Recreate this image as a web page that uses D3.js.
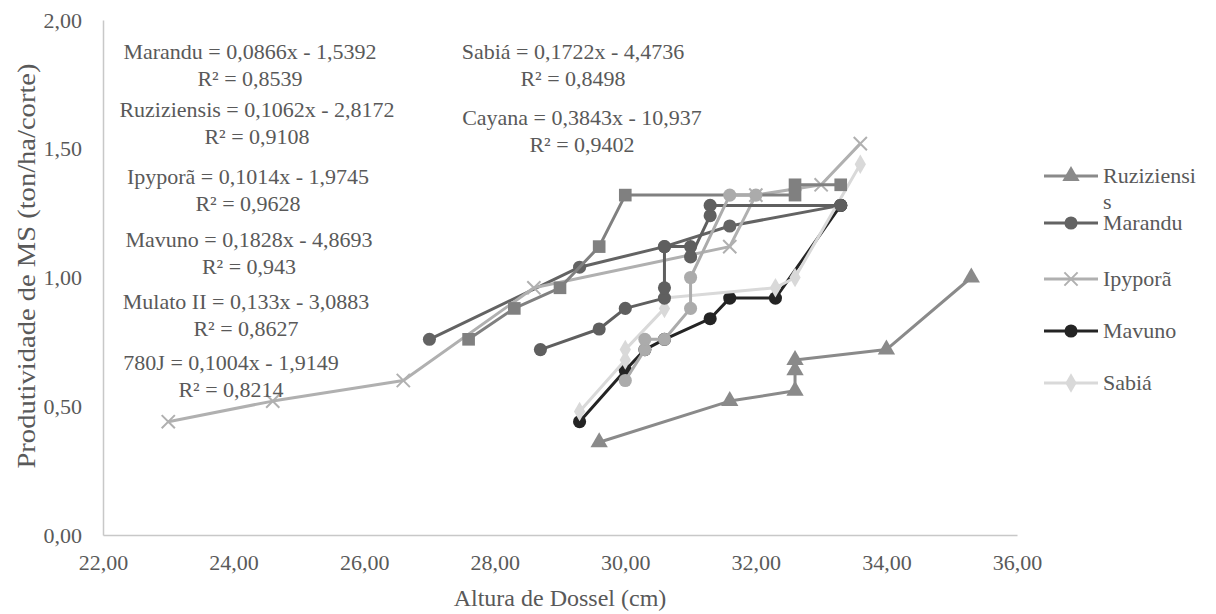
<!DOCTYPE html>
<html>
<head>
<meta charset="utf-8">
<script src="https://cdn.jsdelivr.net/npm/d3@7"></script>
<style>
  body { margin: 0; background: #fff; }
</style>
</head>
<body>
<div id="chart"></div>
<script>
// values: [altura (cm), produtividade (ton/ha/corte)]
let ruziziensis = [[29.6, 0.36], [31.6, 0.52], [32.6, 0.56], [32.6, 0.64], [32.6, 0.68], [34.0, 0.72], [35.3, 1.00]];
let marandu = [[27.0, 0.76], [29.3, 1.04], [30.6, 1.12], [31.6, 1.20], [33.3, 1.28]];
let ipypora = [[23.0, 0.44], [24.6, 0.52], [26.6, 0.60], [28.6, 0.96], [31.6, 1.12], [32.0, 1.32], [33.0, 1.36], [33.6, 1.52]];
let mavuno = [[29.3, 0.44], [30.0, 0.64], [30.3, 0.72], [30.6, 0.76], [31.3, 0.84], [31.6, 0.92], [32.3, 0.92], [33.3, 1.28]];
let sabia = [[29.3, 0.48], [30.0, 0.68], [30.0, 0.72], [30.6, 0.88], [30.6, 0.92], [32.3, 0.96], [32.6, 1.00], [33.6, 1.44]];
let j780 = [[27.6, 0.76], [28.3, 0.88], [29.0, 0.96], [29.6, 1.12], [30.0, 1.32], [32.6, 1.32], [32.6, 1.36], [33.3, 1.36]];
let mulato = [[28.7, 0.72], [29.6, 0.80], [30.0, 0.88], [30.6, 0.92], [30.6, 0.96], [30.6, 1.12], [31.0, 1.12], [31.0, 1.08], [31.3, 1.24], [31.3, 1.28], [33.3, 1.28]];
let cayana = [[30.0, 0.60], [30.3, 0.72], [30.3, 0.76], [30.6, 0.76], [31.0, 0.88], [31.0, 1.00], [31.6, 1.32], [32.0, 1.32]];

let xTicks = [22, 24, 26, 28, 30, 32, 34, 36];
let yTicks = [0, 0.5, 1, 1.5, 2];

let equations = [
    ["Marandu = 0,0866x - 1,5392", "R² = 0,8539"],
    ["Ruziziensis = 0,1062x - 2,8172", "R² = 0,9108"],
    ["Ipyporã = 0,1014x - 1,9745", "R² = 0,9628"],
    ["Mavuno  = 0,1828x - 4,8693", "R² = 0,943"],
    ["Mulato II = 0,133x - 3,0883", "R² = 0,8627"],
    ["780J = 0,1004x - 1,9149", "R² = 0,8214"],
    ["Sabiá = 0,1722x - 4,4736", "R² = 0,8498"],
    ["Cayana = 0,3843x - 10,937", "R² = 0,9402"]
];
// label centres (pixels) of the first line of each equation box
let eqPos = [[250, 52], [257, 110], [248, 177], [249, 240], [246, 302], [231, 363], [573, 52], [582, 118]];

let width = 1216, height = 614;
let mLeft = 103, mRight = 1017, mTop = 20, mBottom = 535;
let serif = "Liberation Serif";
let ink = "#595959";

let x = d3.scaleLinear().domain([22, 36]).range([mLeft, mRight]);
let y = d3.scaleLinear().domain([0, 2]).range([mBottom, mTop]);

let comma = function(d) { return d3.format(".2f")(d).replace(".", ","); };

let timesSymbol = d3.symbolTimes || d3.symbolX || {
    draw: function(ctx, size) {
        let r = Math.sqrt(size) * 0.62;
        ctx.moveTo(-r, -r); ctx.lineTo(r, r);
        ctx.moveTo(-r, r); ctx.lineTo(r, -r);
    }
};

let series = [
    {name: "Ruziziensis", data: ruziziensis, color: "#8a8a8a", symbol: d3.symbolTriangle, size: 130},
    {name: "Marandu", data: marandu, color: "#636363", symbol: d3.symbolCircle, size: 135},
    {name: "Ipyporã", data: ipypora, color: "#b0b0b0", symbol: timesSymbol, size: 115, stroke: true},
    {name: "Mavuno", data: mavuno, color: "#242424", symbol: d3.symbolCircle, size: 135},
    {name: "Sabiá", data: sabia, color: "#d9d9d9", symbol: d3.symbolDiamond, size: 110},
    {name: "780J", data: j780, color: "#808080", symbol: d3.symbolSquare, size: 160},
    {name: "Mulato II", data: mulato, color: "#5f5f5f", symbol: d3.symbolCircle, size: 135},
    {name: "Cayana", data: cayana, color: "#ababab", symbol: d3.symbolCircle, size: 135}
];

let svg = d3.select("#chart").append("svg")
    .attr("width", width)
    .attr("height", height)
    .attr("font-family", serif);

// axes
let xAxis = svg.append("g")
    .attr("transform", "translate(0," + mBottom + ")")
    .call(d3.axisBottom(x).tickValues(xTicks).tickSize(0).tickPadding(19).tickFormat(comma));
let yAxis = svg.append("g")
    .attr("transform", "translate(" + mLeft + ",0)")
    .call(d3.axisLeft(y).tickValues(yTicks).tickSize(0).tickPadding(21).tickFormat(comma));

[xAxis, yAxis].forEach(function(a) {
    a.attr("font-family", serif).attr("font-size", 22);
    a.select(".domain").attr("stroke", "#c8c8c8").attr("stroke-width", 1.5);
    a.selectAll("text").attr("fill", ink).attr("font-family", serif);
});

svg.append("text")
    .attr("x", (mLeft + mRight) / 2)
    .attr("y", 606)
    .attr("text-anchor", "middle")
    .attr("font-family", serif)
    .attr("font-size", 24)
    .attr("fill", ink)
    .text("Altura de Dossel (cm)");

svg.append("text")
    .attr("transform", "translate(35,266) rotate(-90)")
    .attr("text-anchor", "middle")
    .attr("font-family", serif)
    .attr("font-size", 25)
    .attr("textLength", 405)
    .attr("lengthAdjust", "spacingAndGlyphs")
    .attr("fill", ink)
    .text("Produtividade de MS (ton/ha/corte)");

// series
let line = d3.line()
    .x(function(d) { return x(d[0]); })
    .y(function(d) { return y(d[1]); });

series.forEach(function(s) {
    let g = svg.append("g");
    g.append("path")
        .datum(s.data)
        .attr("d", line)
        .attr("fill", "none")
        .attr("stroke", s.color)
        .attr("stroke-width", 3)
        .attr("stroke-linejoin", "round");

    g.selectAll(".pt")
        .data(s.data)
        .enter().append("path")
        .attr("class", "pt")
        .attr("transform", function(d) { return "translate(" + x(d[0]) + "," + y(d[1]) + ")"; })
        .attr("d", d3.symbol().type(s.symbol).size(s.size))
        .attr("fill", s.stroke ? "none" : s.color)
        .attr("stroke", s.stroke ? s.color : "none")
        .attr("stroke-width", 2);
});

// trendline equations
equations.forEach(function(eq, i) {
    let t = svg.append("text")
        .attr("text-anchor", "middle")
        .attr("font-family", serif)
        .attr("font-size", 22)
        .attr("fill", ink);
    eq.forEach(function(l, k) {
        t.append("tspan")
            .attr("x", eqPos[i][0])
            .attr("y", eqPos[i][1] + 7 + k * 27)
            .text(l);
    });
});

// legend (only the first five entries fit)
let legendRows = [176, 223, 279, 331, 383];
let legend = svg.append("g").selectAll("g")
    .data(series.slice(0, 5))
    .enter().append("g")
    .attr("transform", function(d, i) { return "translate(1044," + legendRows[i] + ")"; });

legend.append("line")
    .attr("x1", 0).attr("x2", 54)
    .attr("stroke", function(d) { return d.color; })
    .attr("stroke-width", 3);

legend.append("path")
    .attr("transform", "translate(27,0)")
    .attr("d", function(d) { return d3.symbol().type(d.symbol).size(d.size)(); })
    .attr("fill", function(d) { return d.stroke ? "none" : d.color; })
    .attr("stroke", function(d) { return d.stroke ? d.color : "none"; })
    .attr("stroke-width", 2);

legend.append("text")
    .attr("x", 59)
    .attr("y", 7)
    .attr("font-family", serif)
    .attr("font-size", 22)
    .attr("fill", ink)
    .text(function(d) { return d.name === "Ruziziensis" ? "Ruziziensi" : d.name; });

legend.filter(function(d) { return d.name === "Ruziziensis"; })
    .append("text")
    .attr("x", 59)
    .attr("y", 33)
    .attr("font-family", serif)
    .attr("font-size", 22)
    .attr("fill", ink)
    .text("s");
</script>
</body>
</html>
